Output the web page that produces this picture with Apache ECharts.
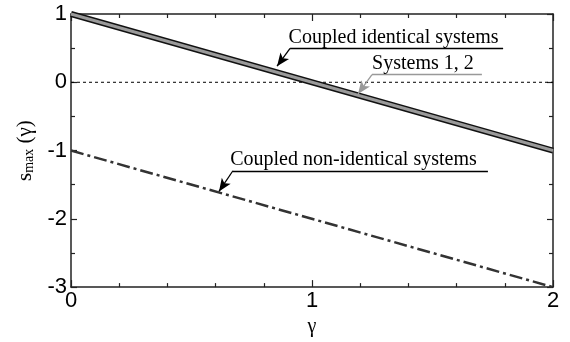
<!DOCTYPE html>
<html><head><meta charset="utf-8">
<script src="https://cdn.jsdelivr.net/npm/echarts@6/dist/echarts.min.js"></script>
<style>html,body{margin:0;padding:0;background:#fff}#c{width:570px;height:342px}</style>
</head><body><div id="c"></div>
<script>
var gamma = [0, 2];
var identical = [1, -1];
var zeroLine = [0, 0];
var nonIdentical = [-1, -3];
var xTicks = ['0', '1', '2'];
var yTicks = ['-3', '-2', '-1', '0', '1'];

function pairs(xs, ys) { return xs.map(function (x, i) { return [x, ys[i]]; }); }

var serif = 'Liberation Serif';
var sans = 'Liberation Sans';
var axisColor = '#222';

var chart = echarts.init(document.getElementById('c'));
var xBase = {
  type: 'value', min: 0, max: 2, interval: 1,
  axisLine: { onZero: false, lineStyle: { color: axisColor, width: 1.5 } },
  axisTick: { inside: true, length: 7, lineStyle: { color: axisColor, width: 1.2 } },
  minorTick: { show: true, splitNumber: 5, length: 4, lineStyle: { color: axisColor, width: 1.2 } },
  splitLine: { show: false }
};
var yBase = {
  type: 'value', min: -3, max: 1, interval: 1,
  axisLine: { onZero: false, lineStyle: { color: axisColor, width: 1.5 } },
  axisTick: { inside: true, length: 6, lineStyle: { color: axisColor, width: 1.2 } },
  minorTick: { show: true, splitNumber: 2, length: 4, lineStyle: { color: axisColor, width: 1.2 } },
  splitLine: { show: false }
};

function leader(tip, start, end, text, color, lblOffset) {
  return {
    type: 'line', data: [], xAxisIndex: 0, yAxisIndex: 0, silent: true,
    markLine: {
      silent: true, animation: false,
      lineStyle: { color: color, width: 1.3, type: 'solid' },
      label: { show: false },
      data: [
        [{ coord: start, symbol: 'none' }, { coord: tip, symbol: 'arrow', symbolSize: [8, 13] }],
        [{ coord: start, symbol: 'none' }, { coord: end, symbol: 'none',
          label: { show: true, position: 'insideMiddleTop', formatter: text, color: '#000',
            fontFamily: serif, fontSize: 20, distance: 1, offset: lblOffset } }]
      ]
    }
  };
}

chart.setOption({
  animation: false,
  grid: { left: 71, right: 17, top: 14, bottom: 51 },
  xAxis: [
    Object.assign({}, xBase, {
      position: 'bottom',
      axisLabel: { color: '#000', fontFamily: sans, fontSize: 22, margin: 3,
        formatter: function (v) { return xTicks[Math.round(v)]; } },
      name: 'γ', nameLocation: 'middle', nameGap: 29,
      nameTextStyle: { color: '#000', fontFamily: serif, fontSize: 20 }
    }),
    Object.assign({}, xBase, { position: 'top', axisLabel: { show: false } })
  ],
  yAxis: [
    Object.assign({}, yBase, {
      position: 'left',
      axisLabel: { color: '#000', fontFamily: sans, fontSize: 22, margin: 4,
        formatter: function (v) { return yTicks[Math.round(v) + 3]; } },
      name: '{s|s}{sub|max}{s| (γ)}', nameLocation: 'middle', nameGap: 34,
      nameTextStyle: { rich: {
        s: { color: '#000', fontFamily: serif, fontSize: 21 },
        sub: { color: '#000', fontFamily: serif, fontSize: 14, verticalAlign: 'bottom', padding: [8, 0, 0, 0] }
      } }
    }),
    Object.assign({}, yBase, { position: 'right', axisLabel: { show: false } })
  ],
  series: [
    { type: 'line', data: pairs(gamma, zeroLine), symbol: 'none', z: 1,
      lineStyle: { color: '#000', width: 1, type: [3, 3] } },
    { type: 'line', data: pairs(gamma, identical), symbol: 'none', z: 2,
      lineStyle: { color: '#111', width: 6 } },
    { type: 'line', data: pairs(gamma, identical), symbol: 'none', z: 3,
      lineStyle: { color: '#9a9a9a', width: 3 } },
    { type: 'line', data: pairs(gamma, nonIdentical), symbol: 'none', z: 2,
      lineStyle: { color: '#333', width: 2.5, type: [13, 4, 3, 4] } },
    leader([0.855, 0.235], [0.909, 0.495], [1.793, 0.495], 'Coupled identical systems', '#000', [-3, 0]),
    leader([1.191, -0.170], [1.249, 0.112], [1.705, 0.112], 'Systems 1, 2', '#999', [-4, 0]),
    leader([0.614, -1.599], [0.672, -1.296], [1.730, -1.296], 'Coupled non-identical systems', '#000', [-7, 0])
  ]
});
</script></body></html>
